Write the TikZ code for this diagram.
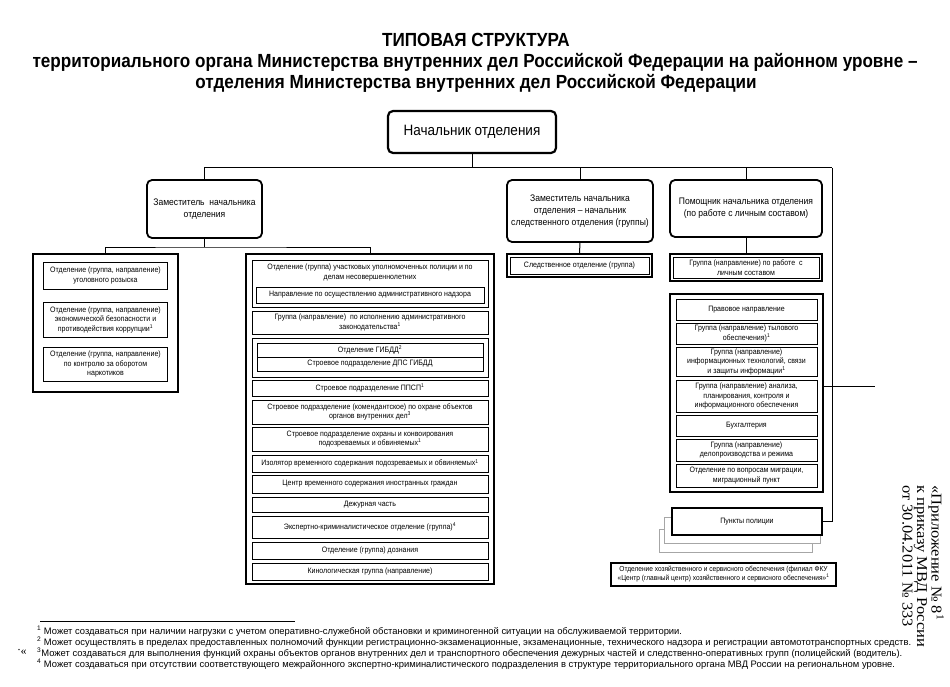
\documentclass[tikz,border=0pt]{standalone}
\usepackage{fontspec}
\setmainfont{Liberation Sans}
\newfontfamily\titlesans[FakeStretch=0.9]{Liberation Sans}
\newfontfamily\boxsans[FakeStretch=0.9]{Liberation Sans}
\newfontfamily\sideserif{Liberation Serif}
\newfontfamily\sidewide[FakeStretch=1.1]{Liberation Serif}
\usetikzlibrary{calc, positioning}

\begin{document}
\begin{tikzpicture}[x=1pt, y=-1pt,
    bus/.style={line width=1pt},
    titletext/.style={inner sep=0pt, font=\titlesans\bfseries\fontsize{19}{21}\selectfont},
    headbox/.style={draw, line width=2.2pt, rounded corners=5pt, align=center, inner sep=0pt, outer sep=0pt, font=\boxsans\fontsize{15}{17}\selectfont},
    chiefbox/.style={draw, line width=1.8pt, rounded corners=5pt, align=center, inner sep=0pt, outer sep=0pt, font=\boxsans\fontsize{9.5}{12}\selectfont},
    groupframe/.style={draw, line width=1.3pt, inner sep=0pt, outer sep=0pt},
    unitbox/.style={draw, line width=0.6pt, align=center, inner sep=0pt, outer sep=0pt, font=\boxsans\fontsize{7.8}{9.5}\selectfont},
    unittext/.style={align=center, inner sep=0pt, font=\boxsans\fontsize{7.8}{9.5}\selectfont},
    shadowbox/.style={draw=gray!70, line width=0.5pt}
  ]
  \useasboundingbox (0,0) rectangle (950,687);
  %\draw[step=50] (0,0) grid (950,687);

  % title
  \node[titletext] (title1) at (476,40) {ТИПОВАЯ СТРУКТУРА};
  \node[titletext] (title2) at (475,62) {территориального органа Министерства внутренних дел Российской Федерации на районном уровне –};
  \node[titletext] (title3) at (476,83) {отделения Министерства внутренних дел Российской Федерации};

  % chiefs
  \node[headbox, minimum width=168pt, minimum height=42pt] (head) at (472,132) {Начальник отделения};
  \node[chiefbox, minimum width=115pt, minimum height=58pt] (dep1) at (204.5,209) {Заместитель\ \ начальника\\отделения};
  \node[chiefbox, minimum width=146pt, minimum height=62pt] (dep2) at (580,211) {Заместитель начальника\\отделения – начальник\\следственного отделения (группы)};
  \node[chiefbox, minimum width=152pt, minimum height=57pt] (asst) at (746,208.5) {Помощник начальника отделения\\(по работе с личным составом)};

  % left group
  \node[groupframe, minimum width=145pt, minimum height=138pt] (crimframe) at (105.5,323) {};
  \node[unitbox, minimum width=124pt, minimum height=27pt] (ugro) at (105.5,275.5) {Отделение (группа, направление)\\уголовного розыска};
  \node[unitbox, minimum width=124pt, minimum height=35pt] (ebik) at (105.5,319.5) {Отделение (группа, направление)\\экономической безопасности и\\противодействия коррупции\textsuperscript{1}};
  \node[unitbox, minimum width=124pt, minimum height=34pt] (unk) at (105.5,364) {Отделение (группа, направление)\\по контролю за оборотом\\наркотиков};

  % middle group
  \node[groupframe, minimum width=248pt, minimum height=330pt] (opframe) at (370,419) {};
  \node[unitbox, minimum width=236pt, minimum height=47pt] (uup) at (370,283.5) {};
  \node[unittext, anchor=north] (uuptext) at ($(uup.north)+(0,4)$) {Отделение (группа) участковых уполномоченных полиции и по\\делам несовершеннолетних};
  \node[unitbox, minimum width=228pt, minimum height=16pt] (adnadzor) at (370,295) {Направление по осуществлению административного надзора};
  \node[unitbox, minimum width=236pt, minimum height=23pt] (iaz) at (370,322.5) {Группа (направление)\ \ по исполнению административного\\законодательства\textsuperscript{1}};
  \node[unitbox, minimum width=236pt, minimum height=39pt] (gibddframe) at (370,357.5) {};
  \node[unitbox, minimum width=226pt, minimum height=14pt] (gibdd) at (370,350) {Отделение ГИБДД\textsuperscript{2}};
  \node[unitbox, minimum width=226pt, minimum height=14pt] (dps) at (370,364) {Строевое подразделение ДПС ГИБДД};
  \node[unitbox, minimum width=236pt, minimum height=16pt] (ppsp) at (370,388) {Строевое подразделение ППСП\textsuperscript{1}};
  \node[unitbox, minimum width=236pt, minimum height=24pt] (komend) at (370,412) {Строевое подразделение (комендантское) по охране объектов\\органов внутренних дел\textsuperscript{3}};
  \node[unitbox, minimum width=236pt, minimum height=24pt] (konvoi) at (370,439) {Строевое подразделение охраны и конвоирования\\подозреваемых и обвиняемых\textsuperscript{1}};
  \node[unitbox, minimum width=236pt, minimum height=17pt] (ivs) at (370,463.5) {Изолятор временного содержания подозреваемых и обвиняемых\textsuperscript{1}};
  \node[unitbox, minimum width=236pt, minimum height=18pt] (cvsig) at (370,484) {Центр временного содержания иностранных граждан};
  \node[unitbox, minimum width=236pt, minimum height=15pt] (dch) at (370,504.5) {Дежурная часть};
  \node[unitbox, minimum width=236pt, minimum height=22pt] (eko) at (370,527) {Экспертно-криминалистическое отделение (группа)\textsuperscript{4}};
  \node[unitbox, minimum width=236pt, minimum height=17pt] (dozn) at (370,550.5) {Отделение (группа) дознания};
  \node[unitbox, minimum width=236pt, minimum height=17pt] (kinol) at (370,571.5) {Кинологическая группа (направление)};

  % investigation
  \node[unitbox, line width=1.3pt, minimum width=145pt, minimum height=23pt] (sled) at (579.5,265.5) {Следственное отделение (группа)};
  \draw[line width=0.5pt] ($(sled.north west)+(3,3)$) rectangle ($(sled.south east)+(-3,-3)$);

  % personnel
  \node[unitbox, line width=1.3pt, minimum width=152pt, minimum height=27pt] (lsgroup) at (746,267.5) {Группа (направление) по работе\ \ с\\личным составом};
  \draw[line width=0.5pt] ($(lsgroup.north west)+(3,3)$) rectangle ($(lsgroup.south east)+(-3,-3)$);
  \node[groupframe, minimum width=153pt, minimum height=198pt] (supframe) at (746.5,393) {};
  \node[unitbox, minimum width=141pt, minimum height=21pt] (pravo) at (746.5,309.5) {Правовое направление};
  \node[unitbox, minimum width=141pt, minimum height=21pt] (tyl) at (746.5,333.5) {Группа (направление) тылового\\обеспечения)\textsuperscript{1}};
  \node[unitbox, minimum width=141pt, minimum height=29pt] (itsz) at (746.5,361.5) {Группа (направление)\\информационных технологий, связи\\и защиты информации\textsuperscript{1}};
  \node[unitbox, minimum width=141pt, minimum height=32pt] (analiz) at (746.5,396) {Группа (направление) анализа,\\планирования, контроля и\\информационного обеспечения};
  \node[unitbox, minimum width=141pt, minimum height=21pt] (buh) at (746.5,425.5) {Бухгалтерия};
  \node[unitbox, minimum width=141pt, minimum height=22pt] (delo) at (746.5,450) {Группа (направление)\\делопроизводства и режима};
  \node[unitbox, minimum width=141pt, minimum height=23pt] (migr) at (746.5,475.5) {Отделение по вопросам миграции,\\миграционный пункт};

  % police posts
  \draw[shadowbox] (659,529) rectangle (812,552);
  \draw[shadowbox, fill=white] (664,517) rectangle (820,543);
  \node[unitbox, line width=1.4pt, fill=white, minimum width=150pt, minimum height=27pt] (punkty) at (747,521.5) {Пункты полиции};

  \node[unitbox, line width=1.4pt, minimum width=225pt, minimum height=23pt, font=\boxsans\fontsize{7.3}{9}\selectfont] (ohso) at (723.5,574.5) {Отделение хозяйственного и сервисного обеспечения (филиал ФКУ\\«Центр (главный центр) хозяйственного и сервисного обеспечения»\textsuperscript{1}};

  % connectors
  \coordinate (busR) at (832,168);
  \coordinate (subbus) at (204.5,247);
  \draw[bus] (head.south) -- (head.south |- busR);
  \draw[bus] (dep1.north) |- (busR);
  \draw[bus] (dep2.north) -- (dep2.north |- busR);
  \draw[bus] (asst.north) -- (asst.north |- busR);
  \draw[bus] (busR) |- (punkty.east);
  \draw[bus] (dep1.south) -- (subbus);
  \draw[bus] (crimframe.north) |- (subbus) -| (opframe.north);
  \draw[bus] (dep2.south) -- (sled.north);
  \draw[bus] (asst.south) -- (lsgroup.north);
  \draw[bus] (supframe.east |- 0,386) -- (875,386);

  % footnotes
  \draw[line width=0.5pt] (40,621) -- (295,621);
  \node[anchor=north west, align=left, inner sep=0pt, font=\fontsize{9.4}{11}\selectfont] (notes) at (37,626) {\textsuperscript{1} Может создаваться при наличии нагрузки с учетом оперативно-служебной обстановки и криминогенной ситуации на обслуживаемой территории.\\
    \textsuperscript{2} Может осуществлять в пределах предоставленных полномочий функции регистрационно-экзаменационные, экзаменационные, технического надзора и регистрации автомототранспортных средств.\\
    \textsuperscript{3}Может создаваться для выполнения функций охраны объектов органов внутренних дел и транспортного обеспечения дежурных частей и следственно-оперативных групп (полицейский (водитель).\\
    \textsuperscript{4} Может создаваться при отсутствии соответствующего межрайонного экспертно-криминалистического подразделения в структуре территориального органа МВД России на региональном уровне.};
  \node[rotate=180, font=\sideserif\fontsize{12}{14}\selectfont] (closeq) at (22,652) {».};

  % appendix note
  \node[rotate=-90, anchor=north west, align=left, inner sep=0pt, font=\sidewide\fontsize{15}{14.5}\selectfont] (prilozh) at (944,485) {«Приложение № 8\textsuperscript{1}\\к приказу МВД России\\от 30.04.2011 № 333};
\end{tikzpicture}
\end{document}
